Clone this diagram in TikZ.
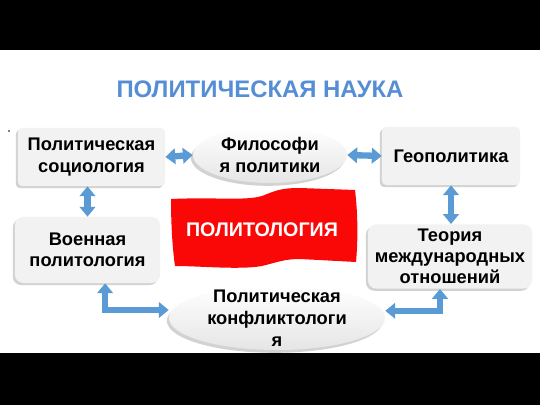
\documentclass[tikz,border=0pt]{standalone}
\usepackage{fontspec}
\setmainfont{Liberation Sans}
\usetikzlibrary{shapes,arrows.meta,positioning,shadows,calc}
\definecolor{titleblue}{RGB}{85,142,213}
\definecolor{linkblue}{RGB}{91,155,213}
\definecolor{boxgray}{RGB}{242,242,242}
\definecolor{bannerred}{RGB}{250,8,8}

\begin{document}
\begin{tikzpicture}[x=0.025cm, y=-0.025cm,
    box/.style={rectangle, rounded corners=3pt, fill=boxgray, align=center, font=\bfseries\fontsize{13}{15}\selectfont, drop shadow={shadow xshift=-1.5pt, shadow yshift=-1.5pt, opacity=0.35}},
    oval/.style={ellipse, top color=white, bottom color=gray!20, align=center, font=\bfseries\fontsize{13}{15}\selectfont, drop shadow={shadow xshift=-1.5pt, shadow yshift=-2pt, opacity=0.35}},
    link/.style={<->, line width=4.5pt, draw=linkblue, >={Triangle[width=11pt,length=7pt]}}
]
    % Background and black bands
    \fill[white] (0,0) rectangle (540,405);
    \useasboundingbox (0,0) rectangle (540,405);
    \fill[black] (0,0) rectangle (540,50);
    \fill[black] (0,353) rectangle (540,405);

    % Title
    \node[font=\bfseries\fontsize{17}{19}\selectfont, text=titleblue] (title) at (260,89) {ПОЛИТИЧЕСКАЯ НАУКА};
    \fill (9,131) circle (0.6pt);

    % Boxes
    \node[box, minimum width=3.68cm, minimum height=1.45cm] (soc) at (91.5,157) {Политическая\\социология};
    \node[box, minimum width=3.63cm, minimum height=1.65cm, rounded corners=6pt] (mil) at (87.5,250) {Военная\\политология};
    \node[box, minimum width=3.45cm, minimum height=1.45cm] (geo) at (451,156) {Геополитика};
    \node[box, minimum width=4.1cm, minimum height=1.6cm, rounded corners=6pt] (theo) at (450,256.5) {Теория\\международных\\отношений};

    % Ovals
    \node[oval, minimum width=3.85cm, minimum height=1.4cm, inner xsep=-10pt, inner ysep=0pt] (phil) at (270,155) {Философи\\я политики};
    \node[oval, minimum width=5.4cm, minimum height=1.6cm, inner xsep=0pt, inner ysep=-7pt, font=\bfseries\fontsize{13}{15.5}\selectfont] (conf) at (277,318) {Политическая\\конфликтологи\\я};

    % Red banner
    \fill[bannerred] (171,199) .. controls (215,197) and (245,201) .. (262,196)
        .. controls (275,191) and (280,188) .. (300,188) -- (355,190)
        .. controls (358,215) and (358,240) .. (356,262)
        -- (300,259) .. controls (285,259) and (278,262) .. (262,266)
        .. controls (240,270) and (200,266) .. (175,266)
        .. controls (172,245) and (171,220) .. (171,199) -- cycle;
    \node[font=\bfseries\fontsize{14}{16}\selectfont, text=white] (polit) at (262,230) {ПОЛИТОЛОГИЯ};

    % Arrows
    \draw[link] (soc.east) -- (phil.west);
    \draw[link] (phil.east) -- (geo.west);
    \draw[link] (mil.north |- soc.south) -- (mil.north);
    \draw[link] (geo.south) -- (geo.south |- theo.north);
    \draw[link] ([xshift=0.44cm]mil.south) |- ([yshift=0.2cm]conf.west);
    \draw[link] ([xshift=-0.25cm]theo.south) |- ([yshift=0.18cm]conf.east);
\end{tikzpicture}
\end{document}
